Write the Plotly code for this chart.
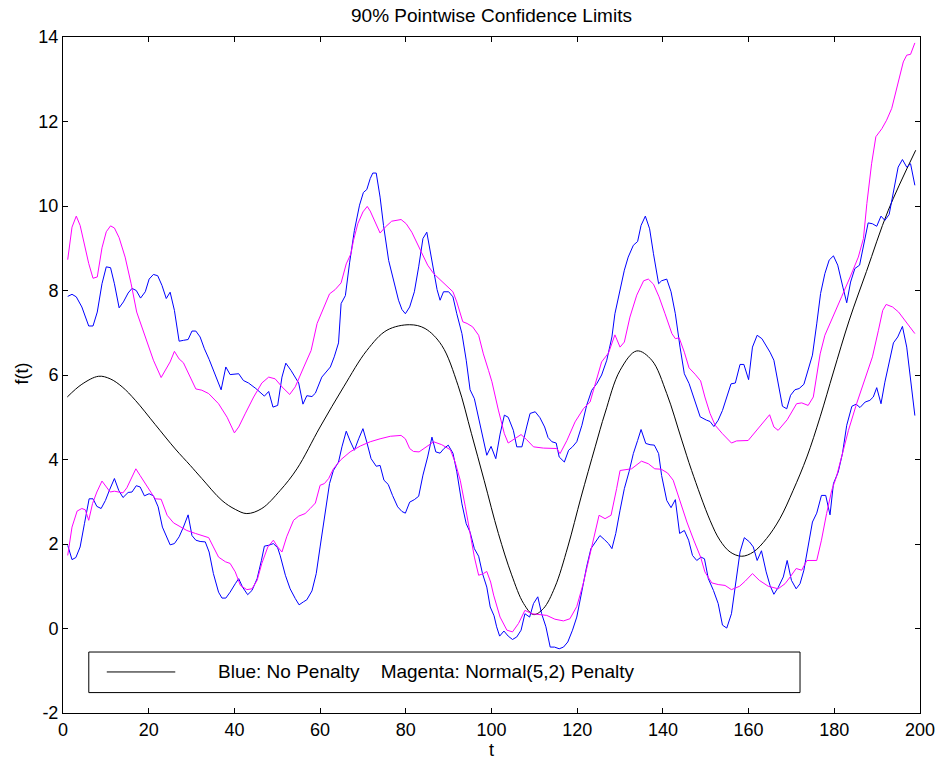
import plotly.graph_objects as go

# ---------------- data ----------------
mean_t = [1, 4.4, 8.3, 11, 13.8, 16.9, 21.5, 26.2, 29.7, 32.4, 37.1, 40.2, 42.9, 46.4,
          50.7, 54.6, 60, 65.5, 70.9, 75.6, 80.9, 84.5, 88.4, 92.2, 95.3, 98.3, 101.6,
          104.7, 107.5, 109.8, 112.1, 114.8, 117.8, 120.9, 124.2, 126.5, 130, 133.9,
          137.4, 140.9, 144.4, 146.7, 151, 153.3, 155.7, 158.4, 161.1, 164.2, 167.3,
          170.4, 173.6, 176.7, 179.8, 183.5, 187.5, 192.6, 199]
mean_f = [5.48, 5.78, 5.97, 5.91, 5.72, 5.40, 4.83, 4.25, 3.86, 3.55, 3.03, 2.82, 2.72, 2.84,
          3.27, 3.78, 4.77, 5.72, 6.58, 7.06, 7.19, 7.10, 6.70, 5.75, 4.62, 3.50, 2.25,
          1.27, 0.59, 0.33, 0.47, 0.98, 1.93, 3.11, 4.30, 5.10, 6.11, 6.57,
          6.35, 5.56, 4.46, 3.74, 2.56, 2.09, 1.81, 1.71, 1.81, 2.13, 2.60,
          3.27, 4.06, 5.01, 6.07, 7.30, 8.45, 9.90, 11.32]

blue_up_t = [1.1, 2.1, 3.1, 4.4, 6.0, 7.0, 8.0, 9.1, 10.1, 11.1, 12.0, 13.1, 14.1, 15.2, 16.1,
             17.1, 18.1, 19.2, 20.1, 21.1, 22.1, 23.1, 24.1, 25.0, 26.0, 27.1, 28.1, 29.2,
             30.1, 31.0, 32.0, 33.0, 34.1, 35.1, 36.9, 38.0, 39.0, 41.0, 42.1, 43.3, 45.0,
             47.0, 48.0, 49.0, 50.1, 51.1, 52.0, 53.2, 55.0, 56.0, 56.9, 58.1, 58.9, 60.4,
             61.6, 62.4, 63.3, 64.3, 64.9, 65.9, 66.9, 68.0, 69.2, 70.1, 70.9, 71.7, 72.3,
             73.1, 74.0, 74.8, 76.0, 77.1, 78.3, 79.1, 79.9, 80.9, 82.0, 83.0, 84.0, 84.9,
             85.7, 86.5, 87.3, 88.0, 88.8, 90.0, 91.0, 91.9, 93.1, 94.1, 95.0, 96.0, 97.0,
             97.9, 98.9, 99.9, 101.0, 102.0, 103.0, 103.9, 105.1, 105.9, 107.1, 108.2, 109.0,
             110.2, 111.3, 112.4, 113.2, 114.1, 115.1, 115.8, 117.0, 118.0, 118.9, 119.9,
             121.1, 122.2, 123.4, 124.6, 125.7, 126.9, 128.1, 128.8, 130.0, 131.0, 131.9,
             133.1, 134.1, 134.9, 135.9, 136.9, 137.8, 139.0, 139.7, 140.9, 141.9, 142.9,
             144.0, 145.0, 146.1, 147.5, 148.7, 150.2, 151.0, 151.9, 152.9, 153.9, 154.9,
             155.9, 156.9, 158.0, 158.9, 160.0, 160.9, 162.0, 163.1, 164.1, 165.0, 165.9,
             166.9, 167.9, 168.9, 169.8, 170.8, 171.8, 172.9, 173.9, 174.9, 175.9, 176.8,
             177.8, 178.8, 179.8, 180.8, 182.0, 182.9, 183.8, 184.8, 185.9, 186.9, 187.9,
             188.9, 189.9, 190.9, 191.8, 192.8, 193.8, 194.9, 195.9, 196.9, 197.8, 198.8]
blue_up_f = [7.86, 7.91, 7.85, 7.61, 7.16, 7.16, 7.49, 8.16, 8.56, 8.54, 8.16, 7.59, 7.73, 7.94, 8.05,
             8.00, 7.82, 7.97, 8.27, 8.38, 8.35, 8.12, 7.81, 7.96, 7.53, 6.80, 6.82, 6.84,
             7.04, 7.04, 6.90, 6.62, 6.37, 6.11, 5.65, 6.19, 6.01, 6.03, 5.87, 5.81, 5.68,
             5.50, 5.61, 5.24, 5.28, 5.95, 6.28, 6.11, 5.81, 5.31, 5.51, 5.49, 5.57, 5.95,
             6.11, 6.19, 6.43, 6.76, 7.69, 7.88, 8.67, 9.42, 10.02, 10.32, 10.39, 10.65, 10.78,
             10.78, 10.21, 9.54, 8.71, 8.24, 7.77, 7.55, 7.45, 7.61, 7.97, 8.56, 9.23, 9.38,
             8.95, 8.48, 8.02, 7.77, 7.97, 7.97, 7.85, 7.45, 6.98, 6.35, 5.65, 5.44, 5.00,
             4.61, 4.10, 4.31, 4.02, 4.60, 5.05, 5.00, 4.69, 4.30, 4.30, 4.77, 5.09,
             5.13, 4.99, 4.77, 4.52, 4.42, 4.39, 4.06, 3.94, 4.22, 4.30, 4.42,
             4.81, 5.28, 5.64, 5.80, 6.00, 6.35, 6.90, 7.45, 8.00, 8.48, 8.79,
             9.07, 9.16, 9.54, 9.76, 9.46, 8.87, 8.16, 8.23, 8.27, 7.97, 7.45,
             6.66, 6.03, 5.80, 5.40, 5.01, 4.93, 4.90, 4.78, 4.93, 5.16, 5.48,
             5.79, 5.81, 6.25, 6.25, 5.89, 6.66, 6.94, 6.86, 6.70, 6.54, 6.35,
             5.79, 5.26, 5.20, 5.52, 5.65, 5.68, 5.78, 6.11, 6.47, 7.21, 7.93,
             8.40, 8.72, 8.82, 8.60, 8.08, 7.71, 8.20, 8.52, 8.60, 9.11, 9.60,
             9.58, 9.52, 9.76, 9.66, 9.80, 10.37, 10.92, 11.10, 10.92, 11.00, 10.49]

blue_lo_t = [1.1, 2.1, 3.0, 4.0, 5.0, 6.1, 7.0, 7.9, 8.9, 9.9, 10.9, 12.0, 13.0, 14.0, 15.2,
             16.1, 17.1, 18.0, 19.0, 20.1, 21.1, 22.2, 23.2, 24.3, 25.0, 26.0, 27.1, 28.1,
             29.2, 30.1, 31.0, 32.0, 33.2, 34.1, 35.1, 36.3, 37.1, 38.0, 39.0, 40.2, 41.0,
             41.9, 43.1, 44.1, 45.3, 46.3, 47.0, 48.0, 49.1, 50.1, 50.7, 51.9, 53.0, 54.2,
             55.1, 56.1, 56.9, 58.1, 59.1, 60.0, 61.2, 62.2, 63.1, 64.3, 65.1, 66.1, 67.0,
             68.0, 69.0, 70.0, 70.9, 71.9, 73.1, 74.0, 74.9, 75.9, 76.9, 78.1, 79.1, 79.9,
             80.9, 82.0, 83.0, 84.0, 85.1, 86.1, 87.0, 88.0, 88.9, 89.9, 91.0, 91.9, 93.1,
             94.1, 95.0, 96.0, 97.0, 97.9, 98.9, 99.7, 100.6, 101.2, 101.9, 102.9, 103.9,
             104.9, 105.9, 106.9, 107.8, 108.9, 109.8, 110.8, 111.7, 112.7, 113.7, 114.7,
             115.8, 116.8, 117.8, 118.9, 119.9, 121.1, 122.2, 123.2, 124.2, 125.3, 126.4,
             127.3, 128.1, 129.0, 130.0, 131.0, 132.1, 133.1, 134.1, 134.9, 136.0, 137.0,
             138.0, 139.0, 139.7, 140.9, 141.9, 142.9, 143.9, 145.0, 146.0, 146.9, 147.9,
             148.9, 149.7, 150.6, 151.8, 152.9, 153.9, 154.9, 156.0, 157.1, 158.0, 159.0,
             160.2, 161.1, 162.0, 163.0, 164.1, 165.0, 165.9, 166.9, 168.1, 169.0, 170.0,
             171.1, 172.0, 172.9, 173.9, 174.9, 175.9, 177.0, 178.0, 179.0, 179.8, 180.9,
             181.9, 182.9, 184.1, 185.1, 186.0, 187.2, 188.3, 189.1, 189.9, 190.9, 191.8,
             192.8, 193.8, 194.8, 195.9, 196.9, 197.8, 198.8]
blue_lo_f = [1.97, 1.63, 1.68, 1.93, 2.48, 3.07, 3.07, 2.89, 2.84, 3.03, 3.29, 3.55, 3.27, 3.10, 3.22,
             3.23, 3.38, 3.35, 3.14, 3.19, 3.14, 2.88, 2.40, 2.13, 1.98, 2.01, 2.17, 2.40,
             2.69, 2.20, 2.09, 2.06, 2.05, 1.81, 1.30, 0.86, 0.72, 0.72, 0.86, 1.06, 1.18,
             0.98, 0.80, 0.90, 1.18, 1.61, 1.95, 1.97, 2.01, 1.91, 1.72, 1.26, 0.94, 0.71,
             0.56, 0.63, 0.68, 0.89, 1.30, 1.93, 2.72, 3.43, 3.74, 3.94, 4.30, 4.67, 4.44,
             4.22, 4.49, 4.73, 4.41, 4.02, 3.84, 3.86, 3.51, 3.41, 3.15, 2.88, 2.77, 2.73,
             2.99, 3.05, 3.13, 3.63, 4.06, 4.53, 4.18, 4.15, 4.26, 4.34, 4.15, 3.71, 2.95,
             2.48, 2.28, 1.89, 1.71, 1.30, 0.98, 0.51, 0.30, 0.04, -0.18, -0.06, -0.18,
             -0.26, -0.20, -0.04, 0.35, 0.27, 0.59, 0.75, 0.35, 0.04, -0.44, -0.44,
             -0.48, -0.44, -0.32, -0.04, 0.27, 0.90, 1.46, 1.89, 2.05, 2.20, 2.10,
             2.01, 1.89, 2.25, 2.80, 3.31, 3.71, 4.14, 4.45, 4.71, 4.38, 4.35,
             4.34, 4.14, 3.62, 3.03, 2.86, 3.05, 2.25, 2.32, 2.09, 1.73, 1.61,
             1.69, 1.65, 1.18, 0.90, 0.59, 0.08, 0.01, 0.35, 1.22, 1.81, 2.15,
             2.05, 1.93, 1.61, 1.84, 1.34, 1.02, 0.81, 0.97, 1.22, 1.61, 1.14,
             0.94, 1.06, 1.38, 1.93, 2.52, 2.73, 3.15, 3.15, 2.69, 3.43, 3.70,
             4.14, 4.81, 5.26, 5.31, 5.23, 5.36, 5.40, 5.48, 5.70, 5.32, 5.83,
             6.27, 6.76, 6.90, 7.15, 6.66, 5.95, 5.04]

mag_up_t = [1.1, 2.1, 3.1, 4.0, 6.0, 7.0, 8.0, 9.1, 10.1, 11.1, 12.0, 13.1, 14.5, 15.9, 17.2,
            19.2, 21.1, 22.9, 24.3, 25.0, 26.0, 27.1, 28.1, 29.3, 31.0, 32.4, 34.0, 36.3,
            38.3, 40.0, 41.0, 42.5, 44.5, 46.4, 48.0, 49.5, 51.1, 52.9, 54.2, 56.2, 57.9,
            59.3, 60.6, 62.2, 63.5, 64.9, 66.1, 67.2, 67.8, 68.8, 70.0, 71.0, 71.7, 72.9,
            74.0, 75.2, 76.7, 78.9, 80.1, 81.4, 82.6, 83.8, 85.1, 86.5, 88.0, 89.6, 91.0,
            91.9, 93.3, 94.3, 95.6, 97.0, 98.1, 99.3, 100.1, 101.6, 103.0, 103.9, 105.4,
            106.9, 108.2, 109.8, 112.1, 115.2, 116.0, 117.6, 119.5, 121.5, 123.0, 124.2,
            125.7, 127.3, 128.8, 130.0, 131.0, 132.3, 133.9, 135.5, 136.6, 137.8, 139.1,
            140.5, 142.1, 142.9, 143.8, 145.0, 146.1, 147.5, 148.8, 149.8, 151.0, 152.2,
            153.9, 156.0, 157.2, 159.9, 161.1, 162.5, 163.8, 164.9, 165.9, 166.9, 169.0,
            171.2, 172.4, 173.9, 175.1, 175.9, 176.7, 177.8, 179.8, 181.7, 183.7, 185.6,
            186.8, 187.6, 188.7, 189.7, 191.1, 192.2, 193.4, 194.2, 195.2, 196.1, 196.9,
            197.8, 198.8]
mag_up_f = [8.73, 9.50, 9.76, 9.54, 8.64, 8.29, 8.32, 9.01, 9.39, 9.53, 9.48, 9.25, 8.79, 8.16, 7.49,
            6.90, 6.35, 5.94, 6.19, 6.31, 6.56, 6.38, 6.29, 6.03, 5.67, 5.64, 5.56, 5.32,
            5.00, 4.63, 4.77, 5.08, 5.48, 5.81, 5.95, 5.91, 5.72, 5.54, 5.72, 6.19, 6.58,
            7.22, 7.53, 7.92, 8.02, 8.18, 8.63, 8.87, 9.19, 9.58, 9.86, 9.99, 9.88, 9.62,
            9.36, 9.50, 9.64, 9.68, 9.58, 9.38, 9.12, 8.87, 8.60, 8.40, 8.26, 8.12, 7.97,
            7.73, 7.26, 7.22, 7.14, 6.94, 6.50, 6.11, 5.84, 5.17, 4.61, 4.39, 4.49,
            4.59, 4.47, 4.30, 4.27, 4.26, 4.14, 4.45, 4.89, 5.21, 5.36, 5.80,
            6.31, 6.52, 6.95, 6.66, 6.78, 7.37, 7.89, 8.23, 8.27, 8.15, 7.85,
            7.45, 6.98, 6.86, 6.88, 6.54, 6.17, 6.02, 5.86, 5.48, 5.09, 4.81,
            4.61, 4.39, 4.44, 4.45, 4.59, 4.77, 4.93, 5.06, 4.77, 4.69, 4.94,
            5.32, 5.34, 5.28, 5.48, 5.95, 6.50, 6.94, 7.39, 7.85, 8.32, 8.79,
            9.23, 10.06, 11.00, 11.64, 11.83, 12.03, 12.31, 12.62, 13.06, 13.41, 13.57,
            13.59, 13.86]

mag_lo_t = [1.1, 2.1, 3.3, 4.4, 5.2, 6.0, 6.9, 7.9, 9.1, 10.0, 11.0, 12.0, 13.0, 14.0, 14.9,
            15.9, 17.0, 18.0, 19.2, 20.4, 21.5, 22.9, 24.3, 25.8, 27.4, 28.9, 30.9, 32.4,
            34.0, 35.1, 36.3, 37.9, 39.0, 40.2, 41.4, 42.9, 44.1, 45.3, 46.4, 47.8, 49.1,
            50.1, 51.1, 52.2, 53.8, 55.0, 56.5, 57.7, 58.9, 60.0, 61.0, 62.0, 63.1, 64.9,
            67.0, 69.4, 71.7, 74.0, 76.4, 78.9, 79.9, 80.9, 81.8, 83.1, 84.5, 86.5, 88.4,
            90.4, 91.5, 92.7, 93.9, 94.9, 96.0, 97.0, 98.1, 98.9, 99.8, 100.5, 102.0,
            103.6, 104.9, 106.3, 107.8, 109.4, 111.1, 112.9, 114.8, 116.8, 118.3, 119.9,
            121.4, 123.4, 125.1, 126.5, 127.9, 129.2, 130.0, 132.7, 135.0, 136.6, 138.1,
            139.6, 141.1, 142.4, 143.9, 145.6, 147.2, 148.8, 149.8, 151.4, 152.9, 154.5,
            156.0, 157.9, 159.2, 160.9, 162.5, 164.6, 166.9, 168.5, 169.7, 171.1, 172.4,
            173.6, 175.9, 177.0, 178.2, 179.4, 180.5, 181.7, 183.3, 185.2, 187.2, 188.9,
            190.3, 191.3, 192.1, 193.6, 195.0, 196.5, 197.8, 198.8]
mag_lo_f = [1.73, 2.40, 2.78, 2.84, 2.81, 2.56, 2.96, 3.23, 3.49, 3.37, 3.23, 3.25, 3.23, 3.21, 3.33,
            3.55, 3.78, 3.62, 3.43, 3.23, 3.07, 3.06, 2.68, 2.50, 2.40, 2.32, 2.25, 2.21,
            2.15, 1.93, 1.69, 1.58, 1.54, 1.34, 1.02, 0.92, 0.94, 1.14, 1.54, 1.93, 2.09,
            1.93, 1.81, 2.17, 2.56, 2.66, 2.72, 2.84, 2.97, 3.39, 3.43, 3.55, 3.78, 4.00,
            4.18, 4.32, 4.42, 4.49, 4.55, 4.57, 4.49, 4.26, 4.19, 4.18, 4.27, 4.42, 4.35,
            4.23, 3.94, 3.51, 2.88, 2.28, 1.69, 1.26, 1.30, 1.35, 1.10, 0.79, 0.27,
            -0.04, -0.08, 0.12, 0.43, 0.35, 0.33, 0.31, 0.22, 0.18, 0.23, 0.52,
            1.06, 1.93, 2.68, 2.60, 2.68, 3.31, 3.74, 3.78, 3.96, 3.90, 3.78,
            3.77, 3.68, 3.51, 3.03, 2.52, 2.09, 1.69, 1.34, 1.08, 1.04, 1.02,
            0.92, 1.00, 1.12, 1.30, 1.14, 1.00, 0.94, 1.06, 1.22, 1.42, 1.38,
            1.61, 1.61, 2.09, 2.72, 3.27, 3.59, 4.06, 4.69, 5.32, 5.95, 6.43,
            7.06, 7.53, 7.67, 7.61, 7.49, 7.29, 7.10, 6.98]

x_ticks = [0, 20, 40, 60, 80, 100, 120, 140, 160, 180, 200]
y_ticks = [-2, 0, 2, 4, 6, 8, 10, 12, 14]
title_text = "90% Pointwise Confidence Limits"
legend_text = "Blue: No Penalty    Magenta: Normal(5,2) Penalty"
x_label = "t"
y_label = "f(t)"

# ---------------- figure ----------------
FONT = "Liberation Sans, Arial, Helvetica, sans-serif"
fig = go.Figure()
fig.add_trace(go.Scatter(x=mean_t, y=mean_f, mode="lines",
                         line=dict(color="black", width=1, shape="spline", smoothing=1.0),
                         showlegend=False, hoverinfo="skip"))
fig.add_trace(go.Scatter(x=blue_up_t, y=blue_up_f, mode="lines", line=dict(color="#0000ff", width=1),
                         showlegend=False))
fig.add_trace(go.Scatter(x=blue_lo_t, y=blue_lo_f, mode="lines", line=dict(color="#0000ff", width=1),
                         showlegend=False))
fig.add_trace(go.Scatter(x=mag_up_t, y=mag_up_f, mode="lines", line=dict(color="#ff00ff", width=1),
                         showlegend=False))
fig.add_trace(go.Scatter(x=mag_lo_t, y=mag_lo_f, mode="lines", line=dict(color="#ff00ff", width=1),
                         showlegend=False))

axis_common = dict(showgrid=False, zeroline=False, showline=True, linecolor="black", linewidth=1,
                   mirror="ticks", ticks="inside", ticklen=5, tickcolor="black", tickwidth=1,
                   automargin=False,
                   tickfont=dict(family=FONT, size=18, color="black"))
fig.update_xaxes(range=[0, 200], tickvals=x_ticks, ticktext=[str(v) for v in x_ticks], **axis_common)
fig.update_yaxes(range=[-2, 14], tickvals=y_ticks, ticktext=[str(v) for v in y_ticks], **axis_common)

# axis labels
fig.add_annotation(text=x_label, xref="paper", yref="paper", x=0.5, y=-0.055,
                   xanchor="center", yanchor="middle", showarrow=False,
                   font=dict(family=FONT, size=18, color="black"))
fig.add_annotation(text=y_label, xref="paper", yref="paper", x=-0.0475, y=0.5025, textangle=-90,
                   xanchor="center", yanchor="middle", showarrow=False,
                   font=dict(family=FONT, size=18, color="black"))

# legend box drawn like the MATLAB legend (paper coordinates)
fig.add_shape(type="rect", xref="paper", yref="paper", x0=0.0301, x1=0.860, y0=0.0302, y1=0.0902,
              line=dict(color="black", width=1), fillcolor="white", layer="above")
fig.add_shape(type="line", xref="paper", yref="paper", x0=0.0511, x1=0.131, y0=0.0607, y1=0.0607,
              line=dict(color="black", width=1), layer="above")
fig.add_annotation(text=legend_text.replace(" ", "\u00a0"), xref="paper", yref="paper", x=0.1785, y=0.0607,
                   xanchor="left", yanchor="middle", showarrow=False,
                   font=dict(family=FONT, size=19, color="black"))

fig.update_layout(
    width=940, height=761,
    margin=dict(l=63, r=20, t=37, b=48, autoexpand=False),
    paper_bgcolor="white", plot_bgcolor="white",
    title=dict(text=title_text, x=0.5, xref="paper", y=1 - 15 / 761, yref="container",
               xanchor="center", yanchor="middle", font=dict(family=FONT, size=19, color="black")),
    showlegend=False,
)

fig.write_html("out.html", config={"displayModeBar": False},
               post_script="document.body.style.margin='0';document.body.style.overflow='hidden';")
